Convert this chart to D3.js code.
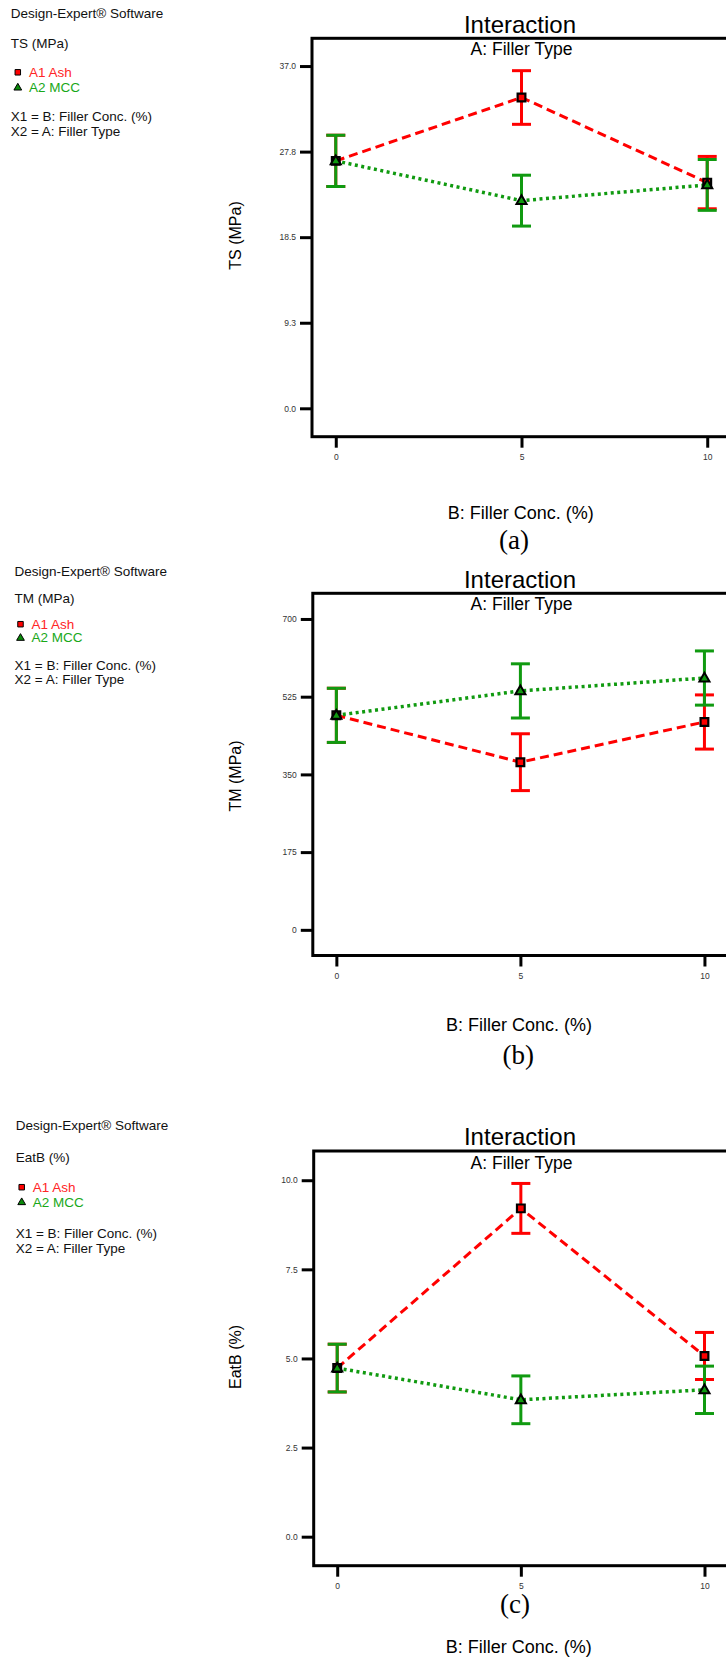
<!DOCTYPE html>
<html>
<head>
<meta charset="utf-8">
<script src="https://cdn.jsdelivr.net/npm/d3@7"></script>
<style>
  html, body { margin: 0; padding: 0; background: #fff; }
  svg { display: block; font-family: "Liberation Sans", Arial, sans-serif; }
</style>
</head>
<body>
<svg id="chart" width="726" height="1657"></svg>
<script>
// ---------------- DATA ----------------
const concLevels = [0, 5, 10];            // B: Filler Conc. (%)
const xTickLabels = ["0", "5", "10"];
const seriesNames = ["A1 Ash", "A2 MCC"];

// (a) TS (MPa)
const tsAsh = [26.75, 33.6, 24.4];
const tsAshErr = [2.77, 2.9, 2.83];
const tsMcc = [26.75, 22.45, 24.15];
const tsMccErr = [2.77, 2.75, 2.75];
const tsTicks = [0, 9.25, 18.5, 27.75, 37];
const tsTickLabels = ["0.0", "9.3", "18.5", "27.8", "37.0"];

// (b) TM (MPa)
const tmAsh = [483, 377.5, 468];
const tmAshErr = [61, 64, 61];
const tmMcc = [483, 538, 567];
const tmMccErr = [61, 61, 61];
const tmTicks = [0, 175, 350, 525, 700];
const tmTickLabels = ["0", "175", "350", "525", "700"];

// (c) EatB (%)
const ebAsh = [4.73, 9.21, 5.07];
const ebAshErr = [0.67, 0.70, 0.66];
const ebMcc = [4.73, 3.84, 4.12];
const ebMccErr = [0.67, 0.67, 0.665];
const ebTicks = [0, 2.5, 5, 7.5, 10];
const ebTickLabels = ["0.0", "2.5", "5.0", "7.5", "10.0"];

// ---------------- STYLE ----------------
const RED = "#ff0000", GREEN = "#109a10";
const RED_TXT = "#ff2626", GREEN_TXT = "#19a819";

const svg = d3.select("#chart");

function drawPanel(cfg) {
  const g = svg.append("g");

  // left info text
  const L = cfg.info;
  const info = g.append("g").attr("font-size", 13.5).attr("fill", "#111");
  info.append("text").attr("x", L.x).attr("y", L.y[0]).text("Design-Expert® Software");
  info.append("text").attr("x", L.x).attr("y", L.y[1]).text(cfg.response);
  info.append("text").attr("x", L.tx).attr("y", L.y[2]).attr("fill", RED_TXT).text(seriesNames[0]);
  info.append("text").attr("x", L.tx).attr("y", L.y[3]).attr("fill", GREEN_TXT).text(seriesNames[1]);
  info.append("text").attr("x", L.x).attr("y", L.y[4]).text("X1 = B: Filler Conc. (%)");
  info.append("text").attr("x", L.x).attr("y", L.y[5]).text("X2 = A: Filler Type");
  info.append("path")
    .attr("d", d3.symbol(d3.symbolSquare, 30)())
    .attr("transform", `translate(${L.mx},${L.y[2] - 4.5})`)
    .attr("fill", RED).attr("stroke", "#000").attr("stroke-width", 1);
  info.append("path")
    .attr("d", d3.symbol(d3.symbolTriangle, 26)())
    .attr("transform", `translate(${L.mx},${L.y[3] - 4.2})`)
    .attr("fill", "#0a8a0a").attr("stroke", "#000").attr("stroke-width", 1);

  // scales
  const x = d3.scaleLinear().domain([-0.64, 10.64]).range([cfg.left, cfg.right]);
  const y = d3.scaleLinear().domain(cfg.yDomain).range([cfg.bottom, cfg.top]);

  // frame
  g.append("rect")
    .attr("x", cfg.left).attr("y", cfg.top)
    .attr("width", cfg.right - cfg.left).attr("height", cfg.bottom - cfg.top)
    .attr("fill", "none").attr("stroke", "#000").attr("stroke-width", 3);

  // y axis
  const yAxis = d3.axisLeft(y).tickValues(cfg.yTicks)
    .tickFormat((d, i) => cfg.yTickLabels[i]).tickSize(12).tickPadding(4);
  const ya = g.append("g").attr("transform", `translate(${cfg.left},0)`).call(yAxis);
  ya.select(".domain").remove();
  ya.selectAll(".tick line").attr("stroke", "#000").attr("stroke-width", 3);
  ya.selectAll(".tick text").attr("font-size", 8.5).attr("fill", "#333")
    .attr("font-family", "Liberation Sans, Arial, sans-serif");

  // x axis
  const xAxis = d3.axisBottom(x).tickValues(concLevels)
    .tickFormat((d, i) => xTickLabels[i]).tickSize(11).tickPadding(6);
  const xa = g.append("g").attr("transform", `translate(0,${cfg.bottom})`).call(xAxis);
  xa.select(".domain").remove();
  xa.selectAll(".tick line").attr("stroke", "#000").attr("stroke-width", 3);
  xa.selectAll(".tick text").attr("font-size", 8.5).attr("fill", "#333")
    .attr("font-family", "Liberation Sans, Arial, sans-serif");

  // titles
  g.append("text").attr("x", 520).attr("y", cfg.titleY).attr("text-anchor", "middle")
    .attr("font-size", 24).attr("fill", "#000").text("Interaction");
  g.append("text").attr("x", 521.5).attr("y", cfg.subY).attr("text-anchor", "middle")
    .attr("font-size", 17.5).attr("fill", "#000").text("A: Filler Type");
  g.append("text")
    .attr("transform", `translate(235.5,${cfg.yTitleY}) rotate(-90)`)
    .attr("text-anchor", "middle").attr("dominant-baseline", "central")
    .attr("font-size", 16).attr("fill", "#000").text(cfg.response);
  g.append("text").attr("x", cfg.xTitleX).attr("y", cfg.xTitleY).attr("text-anchor", "middle")
    .attr("font-size", 18).attr("fill", "#000").text("B: Filler Conc. (%)");
  g.append("text").attr("x", cfg.tagX).attr("y", cfg.tagY).attr("text-anchor", "middle")
    .attr("font-family", "Liberation Serif, Times New Roman, serif")
    .attr("font-size", 27).attr("fill", "#000").text(cfg.tag);

  const series = [
    { vals: cfg.ash, err: cfg.ashErr, color: RED },
    { vals: cfg.mcc, err: cfg.mccErr, color: GREEN }
  ];

  // error bars
  series.forEach(s => {
    const eb = g.append("g").attr("stroke", s.color).attr("stroke-width", 3);
    concLevels.forEach((c, i) => {
      const cx = x(c), y1 = y(s.vals[i] + s.err[i]), y2 = y(s.vals[i] - s.err[i]);
      eb.append("line").attr("x1", cx).attr("x2", cx).attr("y1", y1).attr("y2", y2);
      eb.append("line").attr("x1", cx - 9.5).attr("x2", cx + 9.5).attr("y1", y1).attr("y2", y1);
      eb.append("line").attr("x1", cx - 9.5).attr("x2", cx + 9.5).attr("y1", y2).attr("y2", y2);
    });
  });

  // lines
  const line = d3.line().x((d, i) => x(concLevels[i])).y(d => y(d));
  g.append("path").datum(cfg.ash).attr("d", line).attr("fill", "none")
    .attr("stroke", RED).attr("stroke-width", 3).attr("stroke-dasharray", "9,5");
  g.append("path").datum(cfg.mcc).attr("d", line).attr("fill", "none")
    .attr("stroke", GREEN).attr("stroke-width", 3.5).attr("stroke-dasharray", "3,3.5");

  // markers
  g.selectAll(".mAsh").data(cfg.ash).enter().append("path")
    .attr("d", d3.symbol(d3.symbolSquare, 60)())
    .attr("transform", (d, i) => `translate(${x(concLevels[i])},${y(d)})`)
    .attr("fill", RED).attr("stroke", "#000").attr("stroke-width", 2.2);
  g.selectAll(".mMcc").data(cfg.mcc).enter().append("path")
    .attr("d", d3.symbol(d3.symbolTriangle, 44)())
    .attr("transform", (d, i) => `translate(${x(concLevels[i])},${y(d) + 0.5})`)
    .attr("fill", GREEN).attr("stroke", "#000").attr("stroke-width", 2);
}

drawPanel({
  response: "TS (MPa)", tag: "(a)",
  ash: tsAsh, ashErr: tsAshErr, mcc: tsMcc, mccErr: tsMccErr,
  yTicks: tsTicks, yTickLabels: tsTickLabels, yDomain: [-3.07, 40.0],
  left: 312, right: 731, top: 38.3, bottom: 436.7,
  titleY: 32.5, subY: 55, yTitleY: 235.5,
  xTitleX: 520.8, xTitleY: 519.3, tagX: 514, tagY: 549,
  info: { x: 10.7, tx: 29, mx: 17.8, y: [18.3, 47.5, 76.8, 92, 121, 135.5] }
});

drawPanel({
  response: "TM (MPa)", tag: "(b)",
  ash: tmAsh, ashErr: tmAshErr, mcc: tmMcc, mccErr: tmMccErr,
  yTicks: tmTicks, yTickLabels: tmTickLabels, yDomain: [-57.8, 757.8],
  left: 312.8, right: 728, top: 593.3, bottom: 955.5,
  titleY: 588, subY: 610, yTitleY: 776,
  xTitleX: 519, xTitleY: 1030.7, tagX: 518.3, tagY: 1063.5,
  info: { x: 14.5, tx: 31.5, mx: 20.5, y: [575.5, 602.5, 628.7, 642.3, 669.7, 683.5] }
});

drawPanel({
  response: "EatB (%)", tag: "(c)",
  ash: ebAsh, ashErr: ebAshErr, mcc: ebMcc, mccErr: ebMccErr,
  yTicks: ebTicks, yTickLabels: ebTickLabels, yDomain: [-0.814, 10.82],
  left: 313.7, right: 728, top: 1151, bottom: 1565.7,
  titleY: 1144.5, subY: 1169, yTitleY: 1357,
  xTitleX: 518.7, xTitleY: 1653, tagX: 515, tagY: 1613,
  info: { x: 15.7, tx: 32.7, mx: 21.7, y: [1130.2, 1161.5, 1191.7, 1206.6, 1237.8, 1252.5] }
});
</script>
</body>
</html>
